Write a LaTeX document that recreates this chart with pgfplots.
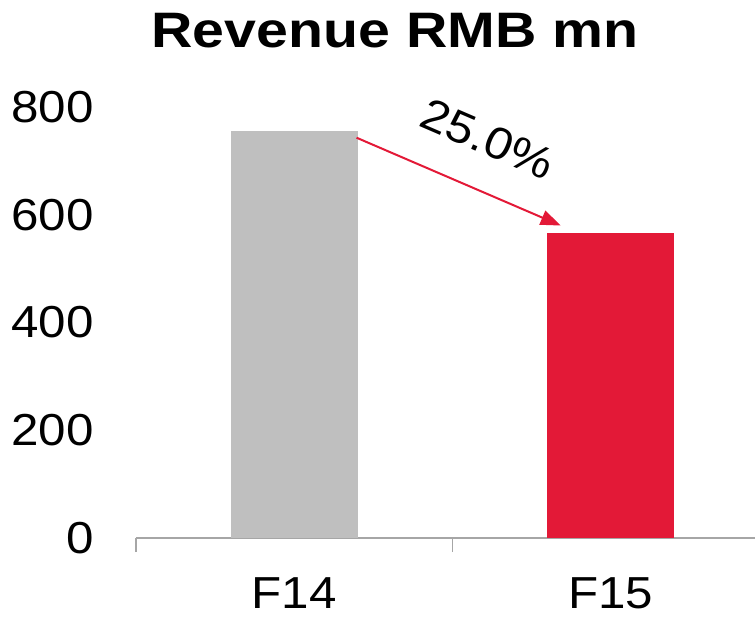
\documentclass[border=0pt]{standalone}
\usepackage{pgfplots}
\pgfplotsset{compat=1.18}
\usetikzlibrary{arrows.meta}
\usepackage{fontspec}
\setmainfont{Liberation Sans}[FakeStretch=1.1]
\newfontfamily\titlefont[FakeStretch=1.15]{Liberation Sans Bold}
\definecolor{barred}{HTML}{E31937}
\definecolor{bargray}{HTML}{BFBFBF}
\definecolor{axgray}{HTML}{A6A6A6}
\begin{document}
\begin{tikzpicture}
\useasboundingbox (-136bp,-79bp) rectangle (619bp,538bp);
\begin{axis}[
 scale only axis, width=619bp, height=431bp,
 xmin=-0.5, xmax=1.456, ymin=0, ymax=800,
 clip=false,
 axis x line=bottom, axis y line=left,
 x axis line style={-, draw=axgray, line width=1.5bp},
 y axis line style={draw=none},
 xtick={0,1}, xticklabels={F14,F15},
 minor xtick={-0.5,0.5,1.5},
 ytick={0,200,400,600,800},
 tick align=outside,
 major tick length=0pt,
 minor tick length=14bp,
 minor x tick style={draw=axgray, line width=1.5bp},
 y tick style={draw=none},
 /pgf/number format/assume math mode=true,
 ticklabel style={font=\fontsize{45}{54}\selectfont},
 yticklabel style={anchor=east, inner sep=0pt, xshift=-42bp},
 xticklabel style={anchor=north, inner sep=0pt, yshift=-39bp},
 ybar, bar width=0.4, bar shift=0pt,
]
\addplot[fill=bargray, draw=none] coordinates {(0,755)};
\addplot[fill=barred, draw=none] coordinates {(1,566)};
\draw[barred, line width=2bp, -{Triangle[length=20bp,width=15bp]}] (axis cs:0.197,743) -- (axis cs:0.842,580);
\node[rotate=-23.3, inner sep=0pt, font=\fontsize{45}{54}\selectfont] at (axis cs:0.612,740) {25.0\%};
\end{axis}
\node[anchor=base, font=\titlefont\fontsize{50}{60}\selectfont] at (259bp,490bp) {Revenue RMB mn};
\end{tikzpicture}
\end{document}
